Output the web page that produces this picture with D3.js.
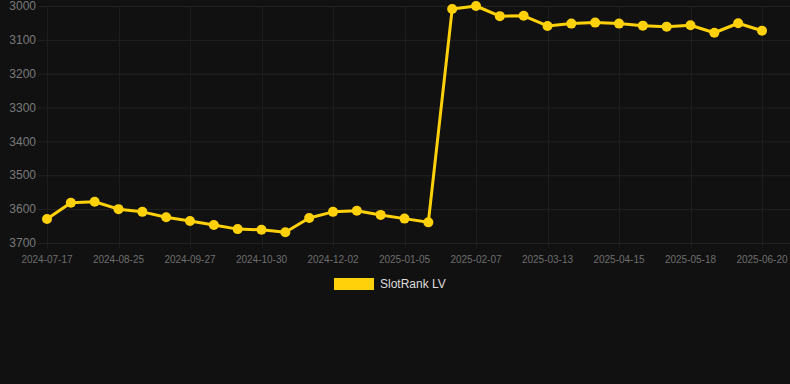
<html><head>
<title>SlotRank LV</title>
<style>
body {
  margin: 0;
  background: #111111;
  font-family: "Liberation Sans", Arial, sans-serif;
}
</style>
<script src="https://cdnjs.cloudflare.com/ajax/libs/d3/7.8.5/d3.min.js"></script>
</head>
<body>
<div id="chart"></div>
<script>
// categories (one per point), only every 3rd is labelled
const dates = [
  "2024-07-17", "2024-07-30", "2024-08-12", "2024-08-25", "2024-09-05", "2024-09-16",
  "2024-09-27", "2024-10-08", "2024-10-19", "2024-10-30", "2024-11-10", "2024-11-21",
  "2024-12-02", "2024-12-13", "2024-12-24", "2025-01-05", "2025-01-16", "2025-01-27",
  "2025-02-07", "2025-02-18", "2025-03-02", "2025-03-13", "2025-03-24", "2025-04-04",
  "2025-04-15", "2025-04-26", "2025-05-07", "2025-05-18", "2025-05-29", "2025-06-09",
  "2025-06-20"
];
const ranks = [
  3629, 3581, 3578, 3600, 3608, 3624, 3635, 3647, 3659, 3661, 3668,
  3626, 3608, 3605, 3617, 3628, 3639,
  3009, 3000, 3030, 3029, 3059, 3052, 3049, 3052, 3058, 3061, 3057, 3079, 3051, 3073
];
const yTicks = [3000, 3100, 3200, 3300, 3400, 3500, 3600, 3700];
const seriesName = "SlotRank LV";

const width = 790, height = 384;
const plotLeft = 38, plotRight = 790;
const gold = "#ffd10a";

const svg = d3.select("#chart").append("svg")
  .attr("width", width)
  .attr("height", height);

const x = d3.scalePoint()
  .domain(dates)
  .range([47, 762]);

// rank axis: smaller number on top
const y = d3.scaleLinear()
  .domain([3000, 3700])
  .range([6, 243]);

const xTicks = dates.filter((d, i) => i % 3 === 0);

// grid
svg.append("g")
  .selectAll("line")
  .data(yTicks)
  .join("line")
  .attr("x1", plotLeft)
  .attr("x2", plotRight)
  .attr("y1", d => y(d) + 0.5)
  .attr("y2", d => y(d) + 0.5)
  .attr("stroke", "#222222");

svg.append("g")
  .selectAll("line")
  .data(xTicks)
  .join("line")
  .attr("x1", d => Math.round(x(d)) + 0.5)
  .attr("x2", d => Math.round(x(d)) + 0.5)
  .attr("y1", y(3000))
  .attr("y2", y(3700) + 5)
  .attr("stroke", "#1d1d1d");

// y labels
svg.append("g")
  .selectAll("text")
  .data(yTicks)
  .join("text")
  .attr("x", 36)
  .attr("y", d => y(d))
  .attr("dy", "0.35em")
  .attr("text-anchor", "end")
  .attr("font-size", 12)
  .attr("fill", "#7a7a7a")
  .text(d => d);

// x labels
svg.append("g")
  .selectAll("text")
  .data(xTicks)
  .join("text")
  .attr("x", d => x(d))
  .attr("y", 259)
  .attr("dy", "0.35em")
  .attr("text-anchor", "middle")
  .attr("font-size", 10)
  .attr("fill", "#6e6e6e")
  .text(d => d);

// line + points
const line = d3.line()
  .x((d, i) => x(dates[i]))
  .y(d => y(d));

svg.append("path")
  .datum(ranks)
  .attr("d", line)
  .attr("fill", "none")
  .attr("stroke", gold)
  .attr("stroke-width", 3)
  .attr("stroke-linejoin", "round");

svg.append("g")
  .selectAll("circle")
  .data(ranks)
  .join("circle")
  .attr("cx", (d, i) => x(dates[i]))
  .attr("cy", d => y(d))
  .attr("r", 5)
  .attr("fill", gold);

// legend
const legend = svg.append("g");
legend.append("rect")
  .attr("x", 334)
  .attr("y", 278)
  .attr("width", 40)
  .attr("height", 12)
  .attr("fill", gold);
legend.append("text")
  .attr("x", 380)
  .attr("y", 284)
  .attr("dy", "0.35em")
  .attr("font-size", 12)
  .attr("fill", "#dddddd")
  .text(seriesName);
</script>
</body>
</html>
